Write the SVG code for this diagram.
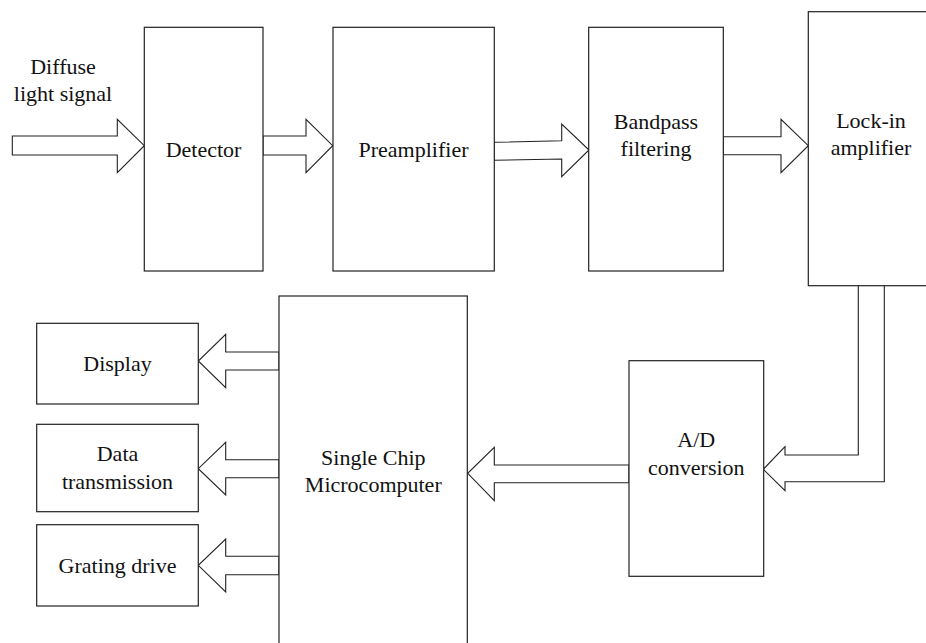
<svg xmlns="http://www.w3.org/2000/svg" width="926" height="643" viewBox="0 0 926 643">
<style>
.box{fill:#fff;stroke:#222;stroke-width:1.2}
.arr{fill:#fff;stroke:#222;stroke-width:1.1;stroke-linejoin:miter}
text{font-family:"Liberation Serif","Times New Roman",serif;font-size:22px;fill:#111;text-anchor:middle}
</style>
<rect width="926" height="643" fill="#fff"/>
<g id="connectors">
<polygon class="arr" points="12.3,136 117.3,136 117.3,119.3 144.3,145.7 117.3,172.7 117.3,155 12.3,155"/>
<polygon class="arr" points="263,136 306,136 306,119.3 332.7,145.7 306,172.7 306,155 263,155"/>
<polygon class="arr" points="494.3,142.3 561.7,140.7 561.7,124 589,150 561.7,176.7 561.7,159 494.3,160.3"/>
<polygon class="arr" points="723.3,136.7 781,136.7 781,119.3 808.3,145.7 781,172.7 781,154.7 723.3,154.7"/>
<polyline class="arr" points="858.3,285.7 858.3,455 785,455 785,446.7 763.3,469.3 785,490.7 785,481.7 884.3,481.7 884.3,285.7"/>
<polygon class="arr" points="629,465 494.3,465 494.3,447.3 467.7,473.3 494.3,500.7 494.3,482.7 629,482.7"/>
<polygon class="arr" points="279,352 225.7,352 225.7,334.3 198.3,361 225.7,387.7 225.7,370 279,370"/>
<polygon class="arr" points="279,459.7 225.7,459.7 225.7,442.3 198.3,468.7 225.7,495 225.7,477.7 279,477.7"/>
<polygon class="arr" points="279,556.3 225.7,556.3 225.7,539 198.3,565.3 225.7,592 225.7,574.7 279,574.7"/>
</g>
<g id="input-label">
<text x="63" y="74">Diffuse</text>
<text x="63" y="101">light signal</text>
</g>
<g id="detector">
<rect class="box" x="144.3" y="27.3" width="118.7" height="243.7"/>
<text x="203.5" y="156.7">Detector</text>
</g>
<g id="preamplifier">
<rect class="box" x="333" y="27.3" width="161.3" height="243.7"/>
<text x="413.5" y="156.7">Preamplifier</text>
</g>
<g id="bandpass">
<rect class="box" x="588.7" y="27.3" width="134.6" height="243.7"/>
<text x="656" y="129.3">Bandpass</text>
<text x="656" y="156">filtering</text>
</g>
<g id="lockin">
<rect class="box" x="808.3" y="11.7" width="130" height="274"/>
<text x="871" y="128.3">Lock-in</text>
<text x="871" y="155.3">amplifier</text>
</g>
<g id="ad">
<rect class="box" x="629" y="360.7" width="134.7" height="215.6"/>
<text x="696.3" y="446.7">A/D</text>
<text x="696.3" y="475">conversion</text>
</g>
<g id="mcu">
<rect class="box" x="279" y="296" width="188.3" height="360"/>
<text x="373.3" y="465">Single Chip</text>
<text x="373.3" y="491.7">Microcomputer</text>
</g>
<g id="display">
<rect class="box" x="36.7" y="323.3" width="161.6" height="80.7"/>
<text x="117.5" y="371">Display</text>
</g>
<g id="datatx">
<rect class="box" x="36.7" y="424.3" width="161.6" height="87.4"/>
<text x="117.5" y="461">Data</text>
<text x="117.5" y="489">transmission</text>
</g>
<g id="grating">
<rect class="box" x="36.7" y="524.7" width="161.6" height="81.3"/>
<text x="117.5" y="573.3">Grating drive</text>
</g>
</svg>
